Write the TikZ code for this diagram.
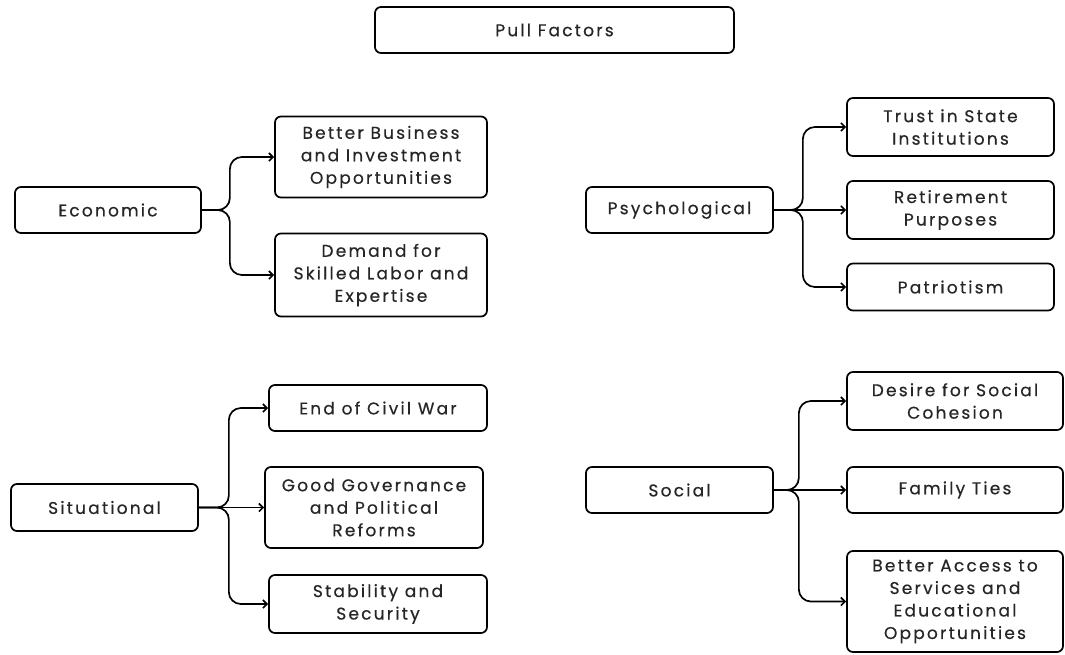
\documentclass[tikz,border=0pt]{standalone}
\usepackage{fontspec}
\setmainfont{Poppins}[LetterSpace=13,FakeBold=0.5]
\usetikzlibrary{arrows.meta}
\begin{document}
\begin{tikzpicture}[x=1pt,y=-1pt,
    factor/.style={draw,line width=1.7pt,rounded corners=6pt,align=center,
      text=black!85,font=\fontsize{17}{22.5}\selectfont,inner sep=0pt},
    link/.style={line width=1.7pt,rounded corners=12pt,
      -{Straight Barb[length=4pt,width=8pt]}}]
      \useasboundingbox (0,0) rectangle (1065,654);
      \draw
        (554.5,30) node[factor,minimum width=359,minimum height=46] (pull){Pull Factors}
        (108,210) node[factor,minimum width=186,minimum height=46] (eco){Economic}
        (381,157) node[factor,minimum width=212,minimum height=81] (bbi){Better Business\\and Investment\\Opportunities}
        (381,275) node[factor,minimum width=212,minimum height=83] (dem){Demand for\\Skilled Labor and\\Expertise}
        (679.5,210) node[factor,minimum width=187,minimum height=46] (psy){Psychological}
        (950.5,127) node[factor,minimum width=207,minimum height=58] (tru){Trust in State\\Institutions}
        (950.5,210) node[factor,minimum width=207,minimum height=58] (ret){Retirement\\Purposes}
        (950.5,287) node[factor,minimum width=207,minimum height=47] (pat){Patriotism}
        (104.5,507.5) node[factor,minimum width=187,minimum height=47] (sit){Situational}
        (378,408) node[factor,minimum width=218,minimum height=46] (civ){End of Civil War}
        (374,507.5) node[factor,minimum width=218,minimum height=81] (gov){Good Governance\\and Political\\Reforms}
        (378,604) node[factor,minimum width=218,minimum height=58] (sta){Stability and\\Security}
        (679.5,490) node[factor,minimum width=187,minimum height=46] (soc){Social}
        (955,401) node[factor,minimum width=216,minimum height=58] (des){Desire for Social\\Cohesion}
        (955,490) node[factor,minimum width=216,minimum height=46] (fam){Family Ties}
        (955,601.5) node[factor,minimum width=216,minimum height=101] (acc){Better Access to\\Services and\\Educational\\Opportunities};
      \begin{scope}[link]
        \draw (eco.east) -- ++(28,0) |- (bbi.west);
        \draw (eco.east) -- ++(28,0) |- (dem.west);
        \draw (psy.east) -- ++(29,0) |- (tru.west);
        \draw (psy.east) -- (ret.west);
        \draw (psy.east) -- ++(29,0) |- (pat.west);
        \draw (sit.east) -- ++(30,0) |- (civ.west);
        \draw (sit.east) -- (gov.west);
        \draw (sit.east) -- ++(30,0) |- (sta.west);
        \draw (soc.east) -- ++(25,0) |- (des.west);
        \draw (soc.east) -- (fam.west);
        \draw (soc.east) -- ++(25,0) |- (acc.west);
      \end{scope}
    \end{tikzpicture}
\end{document}
